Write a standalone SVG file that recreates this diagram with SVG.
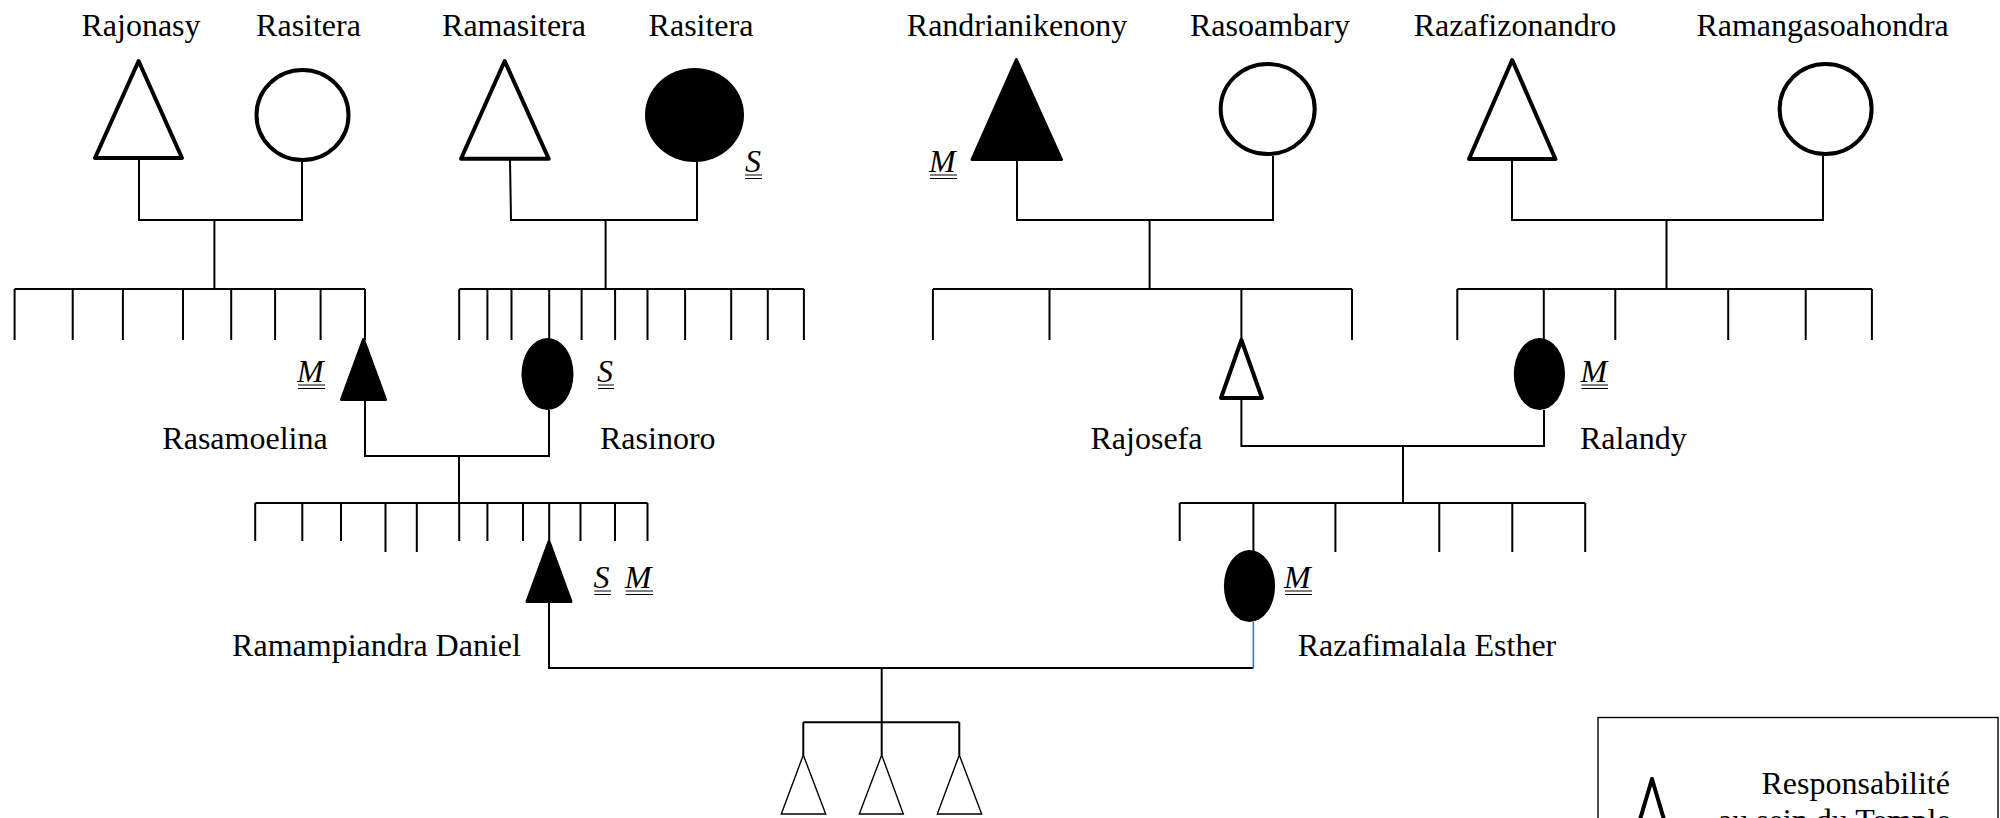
<svg xmlns="http://www.w3.org/2000/svg" width="2000" height="818" viewBox="0 0 2000 818">
  <style>
    .nm { font-family: "Liberation Serif", "Times New Roman", serif; font-size: 32px; fill: #000; }
    .c { text-anchor: middle; }
    .tag { font-family: "Liberation Serif", "Times New Roman", serif; font-size: 32px; font-style: italic; fill: #000; }
    .ln { stroke: #000; stroke-width: 2; fill: none; }
    .ol { fill: #fff; stroke: #000; stroke-width: 4; stroke-linejoin: round; }
    .fl { fill: #000; stroke: #000; stroke-width: 3; stroke-linejoin: round; }
    .sm { fill: #fff; stroke: #000; stroke-width: 1.4; }
    .ul { stroke: #000; stroke-width: 1.2; }
  </style>

  <!-- connectors: couple bars, descent lines and sibling combs -->
  <g id="connectors" class="ln">
    <!-- Rajonasy + Rasitera -->
    <path d="M139,160 V220 H302 V162 M214.4,220 V289"/>
    <path d="M14.6,289 H365 M14.6,289 V340 M72.7,289 V340 M122.9,289 V340 M183,289 V340 M231.2,289 V340 M275.1,289 V340 M320.6,289 V340 M365,289 V340"/>
    <!-- Ramasitera + Rasitera -->
    <path d="M510,160 L511,220 H697 V162 M605.6,220 V289"/>
    <path d="M459.2,289 H803.9 M459.2,289 V340 M487.4,289 V340 M511.5,289 V340 M549.2,289 V340 M581.6,289 V340 M615.1,289 V340 M647.5,289 V340 M685.1,289 V340 M731.2,289 V340 M767.8,289 V340 M803.9,289 V340"/>
    <!-- Randrianikenony + Rasoambary -->
    <path d="M1017,161 V220 H1273 V156 M1149.6,220 V289"/>
    <path d="M932.9,289 H1352 M932.9,289 V340 M1049.5,289 V340 M1241.4,289 V340 M1352,289 V340"/>
    <!-- Razafizonandro + Ramangasoahondra -->
    <path d="M1512,161 V220 H1823 V156 M1666.5,220 V289"/>
    <path d="M1457.3,289 H1871.9 M1457.3,289 V340 M1543.8,289 V340 M1615.3,289 V340 M1728.2,289 V340 M1805.7,289 V340 M1871.9,289 V340"/>
    <!-- Rasamoelina + Rasinoro -->
    <path d="M365,400 V456 H549 V410 M459,456 V503"/>
    <path d="M255.2,503 H647.5 M255.2,503 V541 M302.3,503 V541 M341,503 V541 M385.5,503 V552 M416.8,503 V552 M459.2,503 V541 M487.4,503 V541 M523,503 V541 M549.2,503 V541 M580.5,503 V541 M615,503 V541 M647.5,503 V541"/>
    <!-- Rajosefa + Ralandy -->
    <path d="M1241.4,400 V446 H1544 V410 M1403,446 V503"/>
    <path d="M1179.7,503 H1585.2 M1179.7,503 V541 M1253.4,503 V551 M1335.4,503 V552 M1439.3,503 V552 M1512.3,503 V552 M1585.2,503 V552"/>
    <!-- Ramampiandra Daniel + Razafimalala Esther -->
    <path d="M549,602 V668 H1253.4"/>
    <path d="M1253.4,622 V668" stroke="#4472C4" stroke-width="1.6"/>
    <path d="M881.7,668 V755 M803.3,722.3 H959.3 M803.3,722.3 V755 M959.3,722.3 V755"/>
  </g>

  <!-- first generation -->
  <g id="rajonasy">
    <text class="nm c" x="141" y="36">Rajonasy</text>
    <path class="ol" d="M138.6,61 L182,158 L95,158 Z"/>
  </g>
  <g id="rasitera-1">
    <text class="nm c" x="308.5" y="36">Rasitera</text>
    <ellipse class="ol" cx="302.5" cy="115" rx="46" ry="45"/>
  </g>
  <g id="ramasitera">
    <text class="nm c" x="514" y="36">Ramasitera</text>
    <path class="ol" d="M504.7,61 L548.7,158.7 L461,158.7 Z"/>
  </g>
  <g id="rasitera-2">
    <text class="nm c" x="701" y="36">Rasitera</text>
    <ellipse cx="694.5" cy="115" rx="49.5" ry="47" fill="#000"/>
    <text class="tag" x="745" y="172">S</text>
    <path class="ul" d="M745,175 H762 M745,178.5 H762"/>
  </g>
  <g id="randrianikenony">
    <text class="nm c" x="1017" y="36">Randrianikenony</text>
    <path class="fl" d="M1016.4,59.5 L1061.5,159.5 L972,159.5 Z"/>
    <text class="tag" x="929" y="172">M</text>
    <path class="ul" d="M930,175 H957 M930,178.5 H957"/>
  </g>
  <g id="rasoambary">
    <text class="nm c" x="1270" y="36">Rasoambary</text>
    <ellipse class="ol" cx="1267.7" cy="109" rx="47" ry="45"/>
  </g>
  <g id="razafizonandro">
    <text class="nm c" x="1515" y="36">Razafizonandro</text>
    <path class="ol" d="M1512.2,60 L1555.4,159 L1469,159 Z"/>
  </g>
  <g id="ramangasoahondra">
    <text class="nm c" x="1822.6" y="36">Ramangasoahondra</text>
    <ellipse class="ol" cx="1825.6" cy="109" rx="46" ry="45"/>
  </g>

  <!-- second generation -->
  <g id="rasamoelina">
    <path class="fl" d="M363.5,339.5 L385.5,399.5 L341.5,399.5 Z"/>
    <text class="tag" x="297" y="382">M</text>
    <path class="ul" d="M298,385 H325 M298,388.5 H325"/>
    <text class="nm c" x="245" y="449">Rasamoelina</text>
  </g>
  <g id="rasinoro">
    <ellipse cx="547.5" cy="374" rx="26" ry="36" fill="#000"/>
    <text class="tag" x="597" y="382">S</text>
    <path class="ul" d="M598,385 H614 M598,388.5 H614"/>
    <text class="nm" x="600" y="449">Rasinoro</text>
  </g>
  <g id="rajosefa">
    <path class="ol" d="M1241.4,340 L1262,398 L1221,398 Z"/>
    <text class="nm c" x="1146.5" y="449">Rajosefa</text>
  </g>
  <g id="ralandy">
    <ellipse cx="1539.4" cy="374" rx="25.6" ry="36" fill="#000"/>
    <text class="tag" x="1580.5" y="382">M</text>
    <path class="ul" d="M1581.5,385 H1608 M1581.5,388.5 H1608"/>
    <text class="nm" x="1580" y="449">Ralandy</text>
  </g>

  <!-- third generation -->
  <g id="ramampiandra-daniel">
    <path class="fl" d="M549,541.5 L571,601.5 L527,601.5 Z"/>
    <text class="tag" x="593.5" y="588">S</text>
    <path class="ul" d="M594.3,591 H611 M594.3,594.5 H611"/>
    <text class="tag" x="624.7" y="588">M</text>
    <path class="ul" d="M625.7,591 H653 M625.7,594.5 H653"/>
    <text class="nm c" x="376.5" y="656">Ramampiandra Daniel</text>
  </g>
  <g id="razafimalala-esther">
    <ellipse cx="1249.5" cy="586" rx="25.6" ry="36" fill="#000"/>
    <text class="tag" x="1284" y="588">M</text>
    <path class="ul" d="M1285,591 H1312 M1285,594.5 H1312"/>
    <text class="nm c" x="1427" y="656">Razafimalala Esther</text>
  </g>

  <!-- children -->
  <g id="child-1"><path class="sm" d="M803.3,755 L825.7,814 L781.3,814 Z"/></g>
  <g id="child-2"><path class="sm" d="M881.7,755 L903.3,814 L859.3,814 Z"/></g>
  <g id="child-3"><path class="sm" d="M959.3,755 L981.7,814 L937.3,814 Z"/></g>

  <!-- legend -->
  <g id="legend">
    <rect x="1598" y="717.5" width="400" height="160" fill="#fff" stroke="#000" stroke-width="1.4"/>
    <path d="M1652,779 L1673,850 M1652,779 L1631,850" stroke="#000" stroke-width="4" stroke-linejoin="round" stroke-linecap="round" fill="none"/>
    <text class="nm" x="1761.5" y="794">Responsabilité</text>
    <text class="nm" x="1718" y="831">au sein du Temple</text>
  </g>
</svg>
